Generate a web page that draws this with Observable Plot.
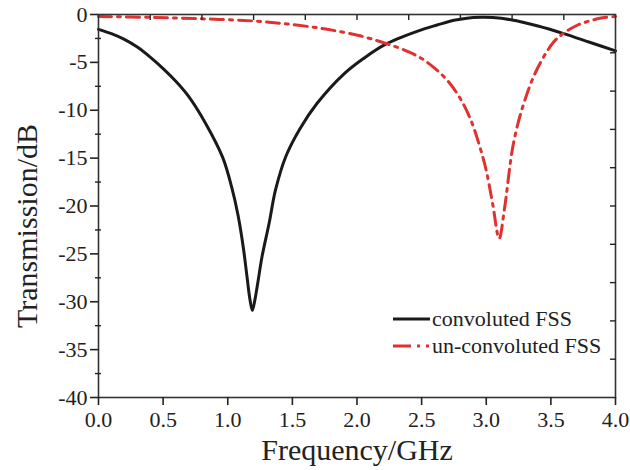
<!DOCTYPE html>
<html>
<head>
<meta charset="utf-8">
<script src="https://cdn.jsdelivr.net/npm/d3@7"></script>
<script src="https://cdn.jsdelivr.net/npm/@observablehq/plot@0.6"></script>
<style>
  html, body { margin: 0; padding: 0; background: #fff; }
  #wrap { position: relative; width: 630px; height: 470px; font-family: "Liberation Serif", "DejaVu Serif", serif; }
  #legend { position: absolute; left: 390px; top: 299px; }
</style>
</head>
<body>
<div id="wrap"></div>
<script>
// Frequency (GHz) and transmission (dB)
const convFreq = [0, 0.1, 0.2, 0.3, 0.4, 0.5, 0.6, 0.70, 0.83, 0.96, 1.03, 1.08, 1.12, 1.15, 1.17, 1.19, 1.21, 1.235, 1.265, 1.32, 1.37, 1.45, 1.56, 1.69, 1.90, 2.05, 2.23, 2.52, 2.62, 2.75, 2.85, 2.96, 3.05, 3.19, 3.4, 3.6, 3.8, 4.0];
const convDB   = [-1.55, -2.0, -2.6, -3.4, -4.45, -5.65, -7.0, -8.6, -11.4, -14.9, -18.0, -21.0, -24.3, -27.5, -29.6, -30.9, -29.8, -27.8, -25.3, -21.8, -18.3, -14.8, -11.9, -9.3, -6.2, -4.6, -3.05, -1.5, -1.1, -0.6, -0.38, -0.3, -0.32, -0.55, -1.2, -2.0, -2.9, -3.8];

const unconvFreq = [0, 0.4, 0.8, 1.2, 1.5, 1.77, 2.03, 2.23, 2.4, 2.5, 2.6, 2.7, 2.8, 2.88, 2.95, 3.0, 3.05, 3.10, 3.14, 3.21, 3.29, 3.39, 3.52, 3.60, 3.7, 3.78, 3.9, 4.0];
const unconvDB   = [-0.2, -0.3, -0.45, -0.68, -1.05, -1.55, -2.25, -3.05, -3.9, -4.6, -5.6, -6.9, -8.8, -11.0, -13.8, -16.3, -19.8, -23.4, -20.4, -13.5, -9.3, -5.8, -2.9, -1.95, -1.15, -0.75, -0.35, -0.2];

const xTicks = [0, 0.5, 1.0, 1.5, 2.0, 2.5, 3.0, 3.5, 4.0];
const yTicks = [-40, -35, -30, -25, -20, -15, -10, -5, 0];
const yMinorTicks = [-37.5, -32.5, -27.5, -22.5, -17.5, -12.5, -7.5, -2.5];
const topTicks = [0.4, 0.8, 1.2, 1.6, 2.0, 2.4, 2.8, 3.2, 3.6];
const rightTicks = [-36, -32, -28, -24, -20, -16, -12, -8, -4];

const seriesNames = ["convoluted FSS", "un-convoluted FSS"];
const xLabel = "Frequency/GHz";
const yLabel = "Transmission/dB";

const conv = convFreq.map((f, i) => ({f, db: convDB[i]}));
const unconv = unconvFreq.map((f, i) => ({f, db: unconvDB[i]}));

const black = "#1a1a1a";
const red = "#e0302f";
const dash = "13,6,3,6";
const serif = "'Liberation Serif', 'Times New Roman', serif";

const chart = Plot.plot({
  width: 630,
  height: 470,
  marginLeft: 98,
  marginRight: 15,
  marginTop: 14,
  marginBottom: 73,
  style: {fontFamily: serif, color: "#222", background: "#fff", overflow: "visible"},
  x: {domain: [0, 4], label: null},
  y: {domain: [-40, 0], label: null},
  marks: [
    Plot.line(conv, {x: "f", y: "db", stroke: black, strokeWidth: 3, curve: "catmull-rom"}),
    Plot.line(unconv, {x: "f", y: "db", stroke: red, strokeWidth: 3, strokeDasharray: dash, curve: "catmull-rom"}),
    Plot.frame({stroke: "#333", strokeWidth: 1.6}),
    Plot.axisX(xTicks, {anchor: "bottom", tickSize: 8, tickPadding: 6, strokeWidth: 1.6, fontSize: 22, tickFormat: d3.format(".1f"), label: null}),
    Plot.axisY(yTicks, {anchor: "left", tickSize: 8, tickPadding: 3, strokeWidth: 1.6, fontSize: 22, tickFormat: d => String(d), label: null}),
    Plot.axisY(yMinorTicks, {anchor: "left", tickSize: 6, dx: 3, strokeWidth: 1.4, tickFormat: () => "", label: null}),
    Plot.axisX(topTicks, {anchor: "top", tickSize: -5, strokeWidth: 1.4, tickFormat: () => "", label: null}),
    Plot.axisY(rightTicks, {anchor: "right", tickSize: -6, strokeWidth: 1.4, tickFormat: () => "", label: null}),
    Plot.text([xLabel], {frameAnchor: "bottom", lineAnchor: "middle", textAnchor: "middle", dy: 53, fontSize: 30, fill: "#222"}),
    Plot.text([yLabel], {frameAnchor: "left", lineAnchor: "middle", textAnchor: "middle", rotate: -90, dx: -71, dy: 20, fontSize: 30, fill: "#222"})
  ]
});
// force the serif face on every text (tick labels included)
d3.select(chart).selectAll("text").style("font-family", serif);
d3.select(chart).selectAll("g").style("font-family", serif);
const wrap = document.getElementById("wrap");
wrap.appendChild(chart);

// legend inside the plot area
const legend = d3.select(wrap).append("svg").attr("id", "legend").attr("width", 230).attr("height", 60);
const items = [{name: seriesNames[0], color: black, dash: null}, {name: seriesNames[1], color: red, dash: "18,6,3,6,3,6"}];
items.forEach((it, i) => {
  const y = 20 + i * 27;
  legend.append("line").attr("x1", 3).attr("x2", 40).attr("y1", y).attr("y2", y)
    .attr("stroke", it.color).attr("stroke-width", 3).attr("stroke-dasharray", it.dash);
  legend.append("text").attr("x", 42).attr("y", y).attr("dy", "0.32em")
    .style("font-family", serif).attr("font-size", 22).attr("fill", "#222").text(it.name);
});
</script>
</body>
</html>
